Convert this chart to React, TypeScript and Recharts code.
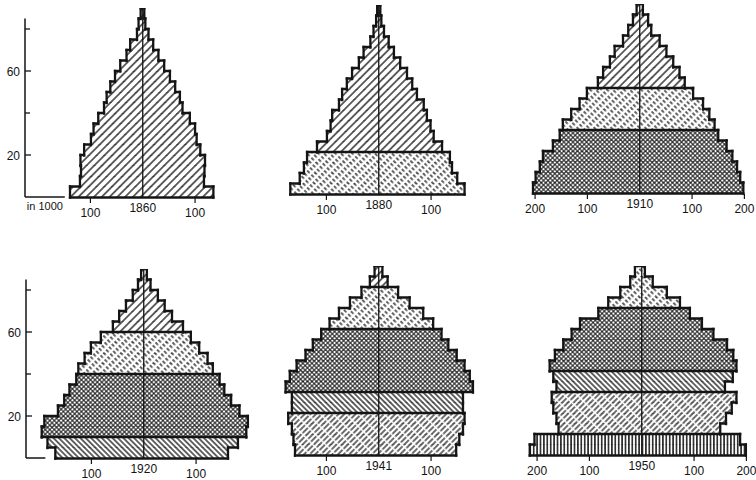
import React from "react";
import { Bar, BarChart, ReferenceLine, XAxis, YAxis } from "recharts";

// lower bound of each 5-year age class
const AGE_GROUPS = ["0", "5", "10", "15", "20", "25", "30", "35", "40", "45", "50", "55", "60", "65", "70", "75", "80", "85"];

const YEARS = [1860, 1880, 1910, 1920, 1941, 1950];

// population per class, in 1000 (men drawn left, women right)
const MEN_1860 = [139, 120, 118, 119, 112, 99, 94, 85, 74, 69, 62, 53, 43, 31, 24, 11, 8, 4];
const WOMEN_1860 = [135, 117, 118, 119, 110, 103, 100, 90, 76, 71, 62, 52, 41, 30, 20, 11, 5, 3];
const MEN_1880 = [169, 151, 143, 137, 118, 99, 92, 89, 76, 70, 61, 51, 38, 29, 16, 10, 5, 3];
const WOMEN_1880 = [164, 150, 140, 136, 121, 105, 99, 92, 86, 73, 64, 54, 41, 29, 19, 10, 5, 3];
const MEN_1910 = [204, 199, 191, 185, 166, 153, 147, 131, 115, 101, 80, 70, 57, 48, 32, 22, 13, 6];
const WOMEN_1910 = [198, 192, 186, 177, 166, 150, 143, 133, 121, 102, 86, 76, 64, 51, 38, 22, 16, 6];
const MEN_1920 = [169, 184, 195, 190, 164, 152, 142, 129, 125, 113, 101, 82, 59, 47, 34, 21, 11, 5];
const WOMEN_1920 = [161, 180, 196, 199, 183, 167, 154, 145, 132, 122, 106, 90, 75, 54, 40, 27, 13, 6];
const MEN_1941 = [160, 163, 166, 173, 166, 166, 178, 170, 157, 140, 126, 110, 94, 76, 55, 33, 17, 8];
const WOMEN_1941 = [148, 154, 161, 164, 161, 161, 180, 174, 164, 149, 133, 120, 104, 85, 59, 37, 17, 7];
const MEN_1950 = [214, 205, 159, 163, 169, 172, 163, 169, 176, 166, 150, 134, 118, 83, 64, 41, 22, 13];
const WOMEN_1950 = [199, 188, 150, 161, 172, 181, 159, 174, 181, 175, 163, 137, 115, 92, 73, 48, 21, 6];

// birth years separating the hatched generations
const COHORT_LIMITS = [1860, 1880, 1910, 1920, 1940];
const COHORT_FILLS = ["hA", "hB", "hC", "hD", "hE", "hF"];

const TICKS_100 = [-100, 0, 100];
const TICKS_200 = [-200, -100, 0, 100, 200];
const AGE_TICKS = [20, 40, 60, 80];
const AGE_LABELS = [20, 60];

const INK = "#141414";
const FONT = "'Liberation Sans', Arial, sans-serif";
const DOMAIN = 225;
const PX_PER_K = 0.5233;
const HALF_PX = DOMAIN * PX_PER_K;
const AXIS_W = 26;
const PLOT_H = 189;
const X_AXIS_H = 30;
const CHART_W = AXIS_W + 2 * HALF_PX;
const CHART_H = PLOT_H + X_AXIS_H;

type RowData = {
  age: string;
  floor: number;
  men: number;
  women: number;
  span: [number, number];
  cohort: number;
  up: RowData | null;
};

function buildRows(year: number, men: number[], women: number[]): RowData[] {
  const rows: RowData[] = AGE_GROUPS.map((age, i) => {
    const born = year - Number(age) - 2.5;
    return {
      age,
      floor: Number(age),
      men: men[i],
      women: women[i],
      span: [-men[i], women[i]],
      cohort: COHORT_LIMITS.filter((l) => born >= l).length,
      up: null,
    };
  });
  rows.forEach((r, i) => {
    r.up = rows[i + 1] ?? null;
  });
  return rows;
}

function Row(props: any) {
  const { x, y, width, height, payload, index } = props;
  const k = width / (payload.men + payload.women);
  const mid = x + payload.men * k;
  const right = x + width;
  const up: RowData | null = payload.up;
  let top: [number, number][];
  if (!up) {
    top = [[x, right]];
  } else {
    const ul = mid - up.men * k;
    const ur = mid + up.women * k;
    top =
      up.cohort !== payload.cohort
        ? [[Math.min(x, ul), Math.max(right, ur)]]
        : [
            [Math.min(x, ul), Math.max(x, ul)],
            [Math.min(right, ur), Math.max(right, ur)],
          ];
  }
  const edge = { stroke: INK, strokeWidth: 2.3, strokeLinecap: "square" as const };
  return (
    <g>
      <rect x={x} y={y} width={width} height={height} fill={`url(#${COHORT_FILLS[payload.cohort]})`} />
      <line x1={mid} y1={y} x2={mid} y2={y + height} stroke={INK} strokeWidth={1.3} />
      <line x1={x} y1={y} x2={x} y2={y + height} {...edge} />
      <line x1={right} y1={y} x2={right} y2={y + height} {...edge} />
      {index === 0 && <line x1={x} y1={y + height} x2={right} y2={y + height} {...edge} />}
      {top
        .filter(([a, b]) => b - a > 0.3)
        .map(([a, b], i) => (
          <line key={i} x1={a} y1={y} x2={b} y2={y} {...edge} />
        ))}
    </g>
  );
}

function XTick(props: any) {
  const { x, y, payload, year } = props;
  const v = payload.value;
  if (v === 0) {
    return (
      <text x={x} y={y + 11.5} textAnchor="middle" dominantBaseline="central" fontSize={12} fill={INK}>
        {year}
      </text>
    );
  }
  return (
    <g>
      <line x1={x} y1={y + 1} x2={x} y2={y + 6} stroke={INK} strokeWidth={1.2} />
      <text x={x} y={y + 16} textAnchor="middle" dominantBaseline="central" fontSize={12} fill={INK}>
        {Math.abs(v)}
      </text>
    </g>
  );
}

function AgeTick(props: any) {
  const { x, y, payload } = props;
  const labelled = AGE_LABELS.includes(payload.value);
  return (
    <g>
      <line x1={x} y1={y} x2={x + (labelled ? 6 : 5)} y2={y} stroke={INK} strokeWidth={1.3} />
      {labelled && (
        <text x={x - 5} y={y + 1} textAnchor="end" dominantBaseline="central" fontSize={12} fill={INK}>
          {payload.value}
        </text>
      )}
    </g>
  );
}

type PanelProps = {
  year: number;
  men: number[];
  women: number[];
  ticks: number[];
  cx: number;
  base: number;
  ageAxis?: boolean;
  baseEnd?: number;
  unit?: string;
};

function Pyramid({ year, men, women, ticks, cx, base, ageAxis, baseEnd, unit }: PanelProps) {
  const rows = buildRows(year, men, women);
  return (
    <div style={{ position: "absolute", left: cx - HALF_PX - AXIS_W, top: base - PLOT_H }}>
      <BarChart
        width={CHART_W}
        height={CHART_H}
        data={rows}
        layout="vertical"
        barCategoryGap={0}
        margin={{ top: 0, right: 0, bottom: 0, left: ageAxis ? 0 : AXIS_W }}
      >
        <XAxis
          type="number"
          domain={[-DOMAIN, DOMAIN]}
          ticks={ticks}
          interval={0}
          allowDataOverflow
          axisLine={false}
          tickLine={false}
          tickSize={0}
          tickMargin={0}
          height={X_AXIS_H}
          tick={(p: any) => <XTick {...p} year={year} />}
        />
        <YAxis yAxisId="cls" type="category" dataKey="age" reversed hide />
        <YAxis
          yAxisId="age"
          type="number"
          dataKey="floor"
          domain={[0, 90]}
          ticks={AGE_TICKS}
          interval={0}
          allowDataOverflow
          reversed
          hide={!ageAxis}
          width={AXIS_W}
          axisLine={false}
          tickLine={false}
          tickSize={0}
          tickMargin={0}
          tick={(p: any) => <AgeTick {...p} />}
        />
        <Bar yAxisId="cls" dataKey="span" shape={Row} isAnimationActive={false} />
        {ageAxis && (
          <ReferenceLine
            yAxisId="age"
            segment={[
              { x: -DOMAIN, y: 0 },
              { x: -DOMAIN, y: 85 },
            ]}
            stroke={INK}
            strokeWidth={1.5}
          />
        )}
        {ageAxis && (
          <ReferenceLine
            yAxisId="age"
            segment={[
              { x: -DOMAIN, y: 0 },
              { x: baseEnd ?? -DOMAIN, y: 0 },
            ]}
            stroke={INK}
            strokeWidth={1.5}
            label={unit ? { value: unit, position: "bottom", offset: 5, fontSize: 11, fill: INK } : undefined}
          />
        )}
      </BarChart>
    </div>
  );
}

function Hatches() {
  const s = { stroke: INK };
  return (
    <svg width={0} height={0} style={{ position: "absolute" }}>
      <defs>
        <pattern id="hA" width={5.5} height={5.5} patternUnits="userSpaceOnUse" patternTransform="rotate(45)">
          <line x1={2.75} y1={0} x2={2.75} y2={5.5} {...s} strokeWidth={1.3} />
        </pattern>
        <pattern id="hB" width={4} height={6} patternUnits="userSpaceOnUse" patternTransform="rotate(-45)">
          <line x1={2} y1={0} x2={2} y2={6} {...s} strokeWidth={1.3} strokeDasharray="3.4 2.6" />
        </pattern>
        <pattern id="hC" width={3.2} height={3.2} patternUnits="userSpaceOnUse" patternTransform="rotate(45)">
          <line x1={1.6} y1={0} x2={1.6} y2={3.2} {...s} strokeWidth={1} />
          <line x1={0} y1={1.6} x2={3.2} y2={1.6} {...s} strokeWidth={1} />
        </pattern>
        <pattern id="hD" width={3.8} height={4} patternUnits="userSpaceOnUse" patternTransform="rotate(-45)">
          <line x1={1.9} y1={0} x2={1.9} y2={4} {...s} strokeWidth={1.3} />
        </pattern>
        <pattern id="hE" width={4} height={9} patternUnits="userSpaceOnUse" patternTransform="rotate(45)">
          <line x1={2} y1={0} x2={2} y2={9} {...s} strokeWidth={1.25} strokeDasharray="7.5 1.5" />
        </pattern>
        <pattern id="hF" width={3.4} height={4} patternUnits="userSpaceOnUse">
          <line x1={1.7} y1={0} x2={1.7} y2={4} {...s} strokeWidth={1.5} />
        </pattern>
      </defs>
    </svg>
  );
}

export default function App() {
  return (
    <div
      style={{
        position: "absolute",
        left: 0,
        top: 0,
        width: 756,
        height: 480,
        background: "#fff",
        fontFamily: FONT,
        overflow: "hidden",
      }}
    >
      <Hatches />
      <Pyramid year={YEARS[0]} men={MEN_1860} women={WOMEN_1860} ticks={TICKS_100} cx={143} base={197} ageAxis baseEnd={-149} unit="in 1000" />
      <Pyramid year={YEARS[1]} men={MEN_1880} women={WOMEN_1880} ticks={TICKS_100} cx={378.3} base={194.3} />
      <Pyramid year={YEARS[2]} men={MEN_1910} women={WOMEN_1910} ticks={TICKS_200} cx={640} base={193.3} />
      <Pyramid year={YEARS[3]} men={MEN_1920} women={WOMEN_1920} ticks={TICKS_100} cx={143.3} base={458.3} ageAxis baseEnd={-188} />
      <Pyramid year={YEARS[4]} men={MEN_1941} women={WOMEN_1941} ticks={TICKS_100} cx={379} base={455} />
      <Pyramid year={YEARS[5]} men={MEN_1950} women={WOMEN_1950} ticks={TICKS_200} cx={641.7} base={455} />
    </div>
  );
}
